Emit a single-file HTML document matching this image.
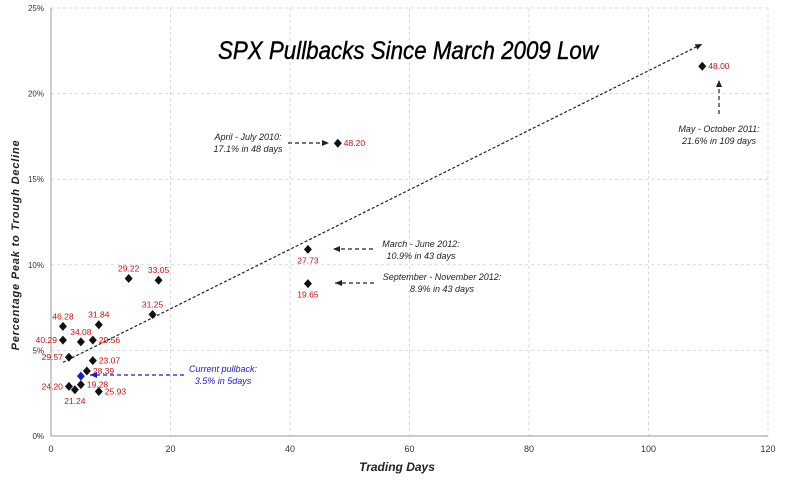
<!DOCTYPE html>
<html><head><meta charset="utf-8"><style>
html,body{margin:0;padding:0;background:#fff;}
svg{display:block;font-family:"Liberation Sans",sans-serif;}
</style></head><body>
<svg id="chart" width="800" height="480" viewBox="0 0 800 480" xmlns="http://www.w3.org/2000/svg">
<defs>
<marker id="ah" markerWidth="8" markerHeight="8" refX="7" refY="4" orient="auto" markerUnits="userSpaceOnUse"><path d="M0,1 L7,4 L0,7 Z" fill="#222"/></marker>
<marker id="ahb" markerWidth="8" markerHeight="8" refX="7" refY="4" orient="auto" markerUnits="userSpaceOnUse"><path d="M0,1 L7,4 L0,7 Z" fill="#1a1ad0"/></marker>
</defs>
<g id="grid"></g>
<g id="axes"></g>
<g id="marks"></g>
<g id="notes"></g>
</svg>
<script>
const days = [109, 48, 43, 43, 13, 18, 17, 2, 8, 2, 5, 7, 3, 7, 6, 3, 5, 4, 8];
const pcts = [21.6, 17.1, 10.9, 8.9, 9.2, 9.1, 7.1, 6.4, 6.5, 5.6, 5.5, 5.6, 4.6, 4.4, 3.8, 2.9, 3.0, 2.7, 2.6];
const labels = ["48.00","48.20","27.73","19.65","29.22","33.05","31.25","46.28","31.84","40.29","34.08","29.56","29.57","23.07","28.39","24.20","19.28","21.24","25.93"];
const labelPos = ["r","r","b","b","t","t","t","t","t","l","t","r","l","r","r","l","r","b","r"];
const currentDay = [5];
const currentPct = [3.5];
const xTicks = [0, 20, 40, 60, 80, 100, 120];
const yTicks = [0, 5, 10, 15, 20, 25];
const trendStart = [2, 4.3];
const trendEnd = [109, 22.9];

const NS = "http://www.w3.org/2000/svg";
const X0 = 51, X1 = 768, Y0 = 436, Y1 = 8;
function sx(d){ return X0 + d / 120 * (X1 - X0); }
function sy(p){ return Y0 - p / 25 * (Y0 - Y1); }
function mk(tag, attrs, parent, text){
  const e = document.createElementNS(NS, tag);
  for (const k in attrs) e.setAttribute(k, attrs[k]);
  if (text !== undefined) e.textContent = text;
  parent.appendChild(e); return e;
}
const grid = document.getElementById('grid');
const axes = document.getElementById('axes');
const marks = document.getElementById('marks');
const notes = document.getElementById('notes');

xTicks.forEach(t => {
  if (t > 0) {
    const g = mk('line', {x1: sx(t), x2: sx(t), y1: Y1, y2: Y0, stroke: '#d8d8d8', 'stroke-dasharray': '3,3'}, grid);
    
    
  }
  const l = mk('text', {x: sx(t), y: Y0 + 16, 'font-size': 9, 'text-anchor': 'middle', fill: '#333'}, axes, String(t));
  
  
});
yTicks.forEach(t => {
  if (t > 0) {
    const g = mk('line', {x1: X0, x2: X1, y1: sy(t), y2: sy(t), stroke: '#d8d8d8', 'stroke-dasharray': '3,3'}, grid);
    
    
  }
  const l = mk('text', {x: 44, y: sy(t) + 3, 'font-size': 8, 'text-anchor': 'end', fill: '#333'}, axes, t + '%');
  
  
});
const ya = mk('line', {x1: X0, x2: X0, y1: Y1, y2: Y0, stroke: '#999', 'stroke-width': 1}, axes);


const xa = mk('line', {x1: X0, x2: X1, y1: Y0, y2: Y0, stroke: '#999', 'stroke-width': 1}, axes);


const xt = mk('text', {x: 397, y: 471, 'font-size': 12, 'font-style': 'italic', 'font-weight': 'bold', 'text-anchor': 'middle', fill: '#222'}, axes, 'Trading Days');


const yt = mk('text', {x: 0, y: 0, 'font-size': 11, 'font-style': 'italic', 'font-weight': 'bold', 'text-anchor': 'middle', fill: '#222', 'letter-spacing': '0.8', transform: 'translate(19,245) rotate(-90)'}, axes, 'Percentage Peak to Trough Decline');


const ti = mk('text', {x: 408, y: 59, 'font-size': 25, 'font-style': 'italic', 'text-anchor': 'middle', fill: '#000', stroke: '#000', 'stroke-width': 0.4, textLength: 380, lengthAdjust: 'spacingAndGlyphs'}, axes, 'SPX Pullbacks Since March 2009 Low');



const tr = mk('line', {x1: sx(trendStart[0]), y1: sy(trendStart[1]), x2: sx(trendEnd[0]), y2: sy(trendEnd[1]), stroke: '#222', 'stroke-width': 1.2, 'stroke-dasharray': '3,2', 'marker-end': 'url(#ah)'}, marks);



function diamond(x, y, color, name){
  const d = mk('path', {d: `M${x},${y-4.5} L${x+4},${y} L${x},${y+4.5} L${x-4},${y} Z`, fill: color}, marks);
  
  
}
days.forEach((d, i) => {
  const x = sx(d), y = sy(pcts[i]);
  diamond(x, y, '#111', 'pullback-point');
  let lx = x, ly = y, anc = 'middle';
  const p = labelPos[i];
  if (p === 'r') { lx = x + 6; ly = y + 3; anc = 'start'; }
  else if (p === 'l') { lx = x - 6; ly = y + 3; anc = 'end'; }
  else if (p === 't') { ly = y - 7; }
  else { ly = y + 14; }
  const t = mk('text', {x: lx, y: ly, 'font-size': 8.5, 'text-anchor': anc, fill: '#cc1111'}, marks, labels[i]);
  
  
});
currentDay.forEach((d, i) => diamond(sx(d), sy(currentPct[i]), '#1a1ad0', 'current-pullback-point'));

function note(lines, x, y, anchor, color, name){
  const t = mk('text', {x: x, y: y, 'font-size': 9, 'font-style': 'italic', 'text-anchor': anchor, fill: color}, notes);
  
  
  lines.forEach((s, k) => { mk('tspan', {x: x, dy: k ? 12 : 0}, t, s); });
}
function arrow(x1, y1, x2, y2, blue, name){
  const a = mk('line', {x1, y1, x2, y2, stroke: blue ? '#1a1ad0' : '#222', 'stroke-width': 1.2, 'stroke-dasharray': '4,3', 'marker-end': blue ? 'url(#ahb)' : 'url(#ah)'}, notes);
  
  
}
note(['April - July 2010:', '17.1% in 48 days'], 248, 140, 'middle', '#222', 'april-july-2010-note');
arrow(288, 143, 329, 143, false, 'april-2010-arrow');
note(['May - October 2011:', '21.6% in 109 days'], 719, 132, 'middle', '#222', 'may-october-2011-note');
arrow(719, 114, 719, 80, false, 'may-2011-arrow');
note(['March - June 2012:', '10.9% in 43 days'], 421, 247, 'middle', '#222', 'march-june-2012-note');
arrow(373, 249, 333, 249, false, 'march-2012-arrow');
note(['September - November 2012:', '8.9% in 43 days'], 442, 280, 'middle', '#222', 'september-november-2012-note');
arrow(374, 283, 335, 283, false, 'september-2012-arrow');
note(['Current pullback:', '3.5% in 5days'], 223, 372, 'middle', '#1a1ad0', 'current-pullback-note');
arrow(184, 375, 90, 375, true, 'current-pullback-arrow');
</script>
</body></html>
